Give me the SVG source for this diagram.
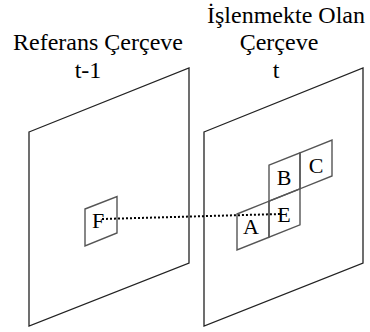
<svg xmlns="http://www.w3.org/2000/svg" width="370" height="332" viewBox="0 0 370 332">
<style>
.t{font-family:"Liberation Serif","Times New Roman",serif;font-size:24px;fill:#000;text-anchor:middle}
.l{font-family:"Liberation Serif","Times New Roman",serif;font-size:22px;fill:#000;text-anchor:middle}
.fr{fill:none;stroke:#222;stroke-width:1.3}
.bx{fill:none;stroke:#555;stroke-width:1.4}
.dot{fill:none;stroke:#000;stroke-width:2;stroke-dasharray:2 2}
</style>
<rect width="370" height="332" fill="#fff"/>
<g id="title-left">
<text class="t" x="98" y="50">Referans Çerçeve</text>
<text class="t" x="88" y="78">t-1</text>
</g>
<g id="title-right">
<text class="t" x="286" y="23">İşlenmekte Olan</text>
<text class="t" x="279" y="50">Çerçeve</text>
<text class="t" x="276" y="78">t</text>
</g>
<g id="frame-ref"><polygon class="fr" points="29,132 189,68 189,263 29,326"/></g>
<g id="frame-cur"><polygon class="fr" points="204,132 363,68 363,263 204,326"/></g>
<g id="node-F"><polygon class="bx" points="85,209 117,196.5 117,233 85,246"/><text class="l" x="98" y="228">F</text></g>
<g id="node-A"><polygon class="bx" points="237,214 269,201.2 269,237.2 237,250"/><text class="l" x="251" y="234">A</text></g>
<g id="node-E"><polygon class="bx" points="269,201.2 300,188.8 300,224.8 269,237.2"/><text class="l" x="284" y="222">E</text></g>
<g id="node-B"><polygon class="bx" points="269,165.2 300,152.8 300,188.8 269,201.2"/><text class="l" x="284" y="185">B</text></g>
<g id="node-C"><polygon class="bx" points="300,152.8 332,140 332,176 300,188.8"/><text class="l" x="316" y="173">C</text></g>
<g id="connectors"><line class="dot" x1="102" y1="219" x2="281" y2="214"/></g>
</svg>
